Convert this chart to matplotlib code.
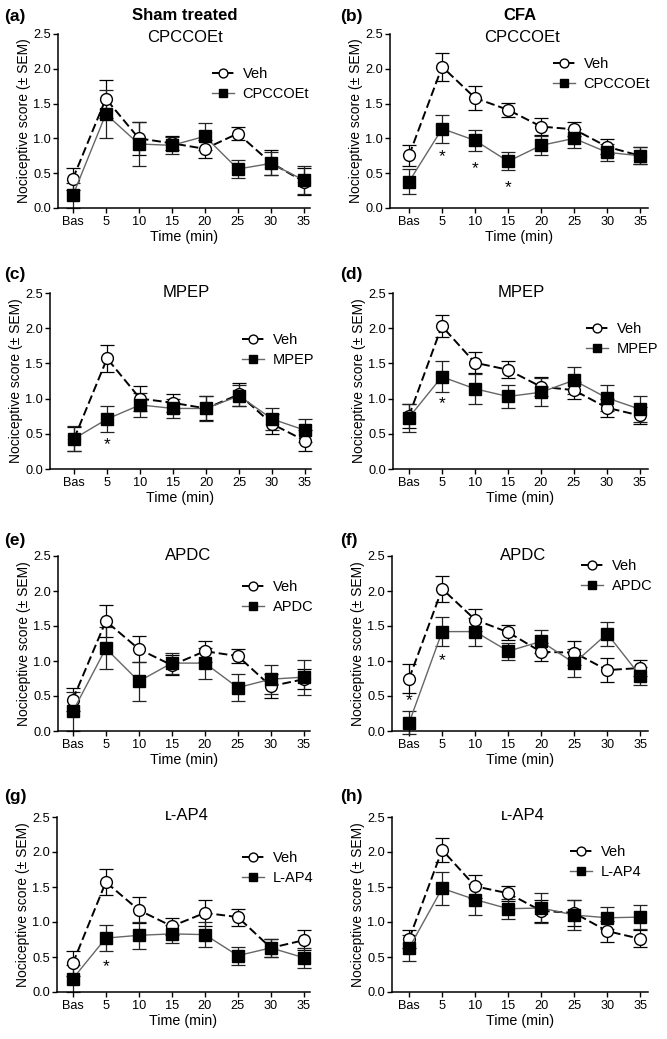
import matplotlib.pyplot as plt
import numpy as np

plt.rcParams['font.family'] = ['Liberation Sans', 'DejaVu Sans']

time_labels = ['Bas', '5', '10', '15', '20', '25', '30', '35']

# (a) sham, CPCCOEt
veh_a = [0.42, 1.57, 1.00, 0.93, 0.85, 1.07, 0.65, 0.38]
veh_a_sem = [0.16, 0.27, 0.24, 0.10, 0.13, 0.10, 0.18, 0.20]
drug_a = [0.18, 1.35, 0.92, 0.90, 1.03, 0.56, 0.64, 0.40]
drug_a_sem = [0.18, 0.34, 0.31, 0.12, 0.19, 0.13, 0.17, 0.20]

# (b) CFA, CPCCOEt
veh_b = [0.76, 2.03, 1.58, 1.41, 1.17, 1.13, 0.88, 0.75]
veh_b_sem = [0.15, 0.20, 0.17, 0.10, 0.12, 0.10, 0.11, 0.12]
drug_b = [0.38, 1.14, 0.97, 0.67, 0.90, 1.00, 0.80, 0.75]
drug_b_sem = [0.18, 0.20, 0.15, 0.13, 0.14, 0.14, 0.12, 0.12]

# (c) sham, MPEP
veh_c = [0.43, 1.57, 1.00, 0.94, 0.86, 1.06, 0.64, 0.40]
veh_c_sem = [0.17, 0.19, 0.18, 0.13, 0.17, 0.16, 0.14, 0.15]
drug_c = [0.43, 0.71, 0.91, 0.86, 0.86, 1.04, 0.71, 0.55]
drug_c_sem = [0.18, 0.19, 0.17, 0.14, 0.18, 0.15, 0.15, 0.16]

# (d) CFA, MPEP
veh_d = [0.75, 2.03, 1.51, 1.41, 1.17, 1.12, 0.87, 0.76]
veh_d_sem = [0.17, 0.16, 0.15, 0.12, 0.14, 0.12, 0.13, 0.12]
drug_d = [0.73, 1.31, 1.14, 1.03, 1.09, 1.26, 1.01, 0.85]
drug_d_sem = [0.20, 0.22, 0.21, 0.16, 0.20, 0.19, 0.19, 0.18]

# (e) sham, APDC
veh_e = [0.45, 1.57, 1.17, 0.94, 1.14, 1.07, 0.64, 0.74]
veh_e_sem = [0.17, 0.23, 0.19, 0.14, 0.15, 0.10, 0.17, 0.14]
drug_e = [0.28, 1.18, 0.71, 0.97, 0.97, 0.62, 0.74, 0.77]
drug_e_sem = [0.28, 0.30, 0.28, 0.15, 0.22, 0.19, 0.21, 0.25]

# (f) CFA, APDC
veh_f = [0.75, 2.03, 1.59, 1.41, 1.13, 1.12, 0.87, 0.90]
veh_f_sem = [0.21, 0.18, 0.16, 0.11, 0.13, 0.17, 0.17, 0.12]
drug_f = [0.12, 1.42, 1.42, 1.14, 1.28, 0.97, 1.39, 0.79]
drug_f_sem = [0.16, 0.21, 0.20, 0.12, 0.16, 0.20, 0.17, 0.13]

# (g) sham, L-AP4
veh_g = [0.41, 1.57, 1.17, 0.94, 1.13, 1.07, 0.63, 0.74]
veh_g_sem = [0.18, 0.19, 0.19, 0.12, 0.18, 0.12, 0.13, 0.14]
drug_g = [0.19, 0.77, 0.81, 0.83, 0.82, 0.52, 0.63, 0.49]
drug_g_sem = [0.19, 0.19, 0.19, 0.13, 0.18, 0.13, 0.13, 0.14]

# (h) CFA, L-AP4
veh_h = [0.76, 2.03, 1.51, 1.41, 1.16, 1.13, 0.87, 0.76]
veh_h_sem = [0.13, 0.17, 0.16, 0.11, 0.16, 0.18, 0.15, 0.12]
drug_h = [0.63, 1.48, 1.32, 1.19, 1.20, 1.10, 1.06, 1.07]
drug_h_sem = [0.19, 0.23, 0.22, 0.14, 0.21, 0.22, 0.16, 0.17]

# significance stars: (time index, y)
stars_b = [(1, 0.74), (2, 0.56), (3, 0.29)]
stars_c = [(1, 0.35)]
stars_d = [(1, 0.93)]
stars_f = [(0, 0.43), (1, 1.00)]
stars_g = [(1, 0.36)]

W, H = 667, 1039
UNIT = 33.0  # px per time step


def fx(px):
    return px / W


def fy(py):
    return 1 - py / H


# label, data, title, legend name, stars, axes px (left, right, top, bottom, xlim-left), legend px
panels = [
    ('(a)', veh_a, veh_a_sem, drug_a, drug_a_sem, 'CPCCOEt', 'CPCCOEt', [],
     (58, 310, 34, 208, -0.45), (212, 84)),
    ('(b)', veh_b, veh_b_sem, drug_b, drug_b_sem, 'CPCCOEt', 'CPCCOEt', stars_b,
     (390, 648, 34, 208, -0.58), (553, 74)),
    ('(c)', veh_c, veh_c_sem, drug_c, drug_c_sem, 'MPEP', 'MPEP', stars_c,
     (50, 311, 293, 469, -0.73), (242, 350)),
    ('(d)', veh_d, veh_d_sem, drug_d, drug_d_sem, 'MPEP', 'MPEP', stars_d,
     (393, 648, 293, 469, -0.48), (586, 339)),
    ('(e)', veh_e, veh_e_sem, drug_e, drug_e_sem, 'APDC', 'APDC', [],
     (58, 310, 556, 731, -0.45), (242, 597)),
    ('(f)', veh_f, veh_f_sem, drug_f, drug_f_sem, 'APDC', 'APDC', stars_f,
     (392, 648, 556, 731, -0.52), (581, 576)),
    ('(g)', veh_g, veh_g_sem, drug_g, drug_g_sem, 'ʟ-AP4', 'L-AP4', stars_g,
     (57, 310, 817, 992, -0.48), (242, 868)),
    ('(h)', veh_h, veh_h_sem, drug_h, drug_h_sem, 'ʟ-AP4', 'L-AP4', [],
     (392, 648, 817, 992, -0.52), (570, 862)),
]

title_pos = {'(a)': (185, 37), '(b)': (522, 37), '(c)': (186, 292), '(d)': (521, 292),
             '(e)': (188, 555), '(f)': (523, 555), '(g)': (187, 816), '(h)': (523, 816)}
label_pos = {'(a)': (4, 17), '(b)': (340, 17), '(c)': (4, 275), '(d)': (340, 275),
             '(e)': (4, 540), '(f)': (340, 540), '(g)': (4, 797), '(h)': (340, 797)}

fig = plt.figure(figsize=(W / 100, H / 100), dpi=100)
x = np.arange(len(time_labels))

for (lab, veh, veh_sem, drug, drug_sem, title, dname, stars, geo, leg) in panels:
    left, right, top, bottom, xl = geo
    ax = fig.add_axes([fx(left), fy(bottom), (right - left) / W, (bottom - top) / H])

    ax.errorbar(x, veh, yerr=veh_sem, fmt='none', ecolor='black', elinewidth=0.9,
                capsize=4.7, capthick=0.9, zorder=2, clip_on=False)
    ax.errorbar(x, drug, yerr=drug_sem, fmt='none', ecolor='#222222', elinewidth=0.9,
                capsize=4.7, capthick=0.9, zorder=2, clip_on=False)
    ax.plot(x, veh, color='black', lw=1.4, ls=(0, (4.5, 2)), marker='o', ms=8.5,
            mfc='white', mec='black', mew=1.0, zorder=3, clip_on=False, label='Veh')
    ax.plot(x, drug, color='#666666', lw=1.0, marker='s', ms=8.5, mfc='black',
            mec='black', zorder=4, clip_on=False, label=dname)

    for (i, sy) in stars:
        ax.text(i, sy, '*', ha='center', va='center', fontsize=12.5)

    ax.set_xlim(xl, xl + (right - left) / UNIT)
    ax.set_ylim(0, 2.5)
    ax.set_xticks(x)
    ax.set_xticklabels(time_labels)
    ax.set_yticks([0, 0.5, 1.0, 1.5, 2.0, 2.5])
    ax.set_yticklabels(['0.0', '0.5', '1.0', '1.5', '2.0', '2.5'])
    ax.tick_params(labelsize=9.2, width=1.0, length=3.5, pad=1.5, direction='out')
    ax.tick_params(axis='x', pad=2.5)
    for s in ['top', 'right']:
        ax.spines[s].set_visible(False)
    for s in ['left', 'bottom']:
        ax.spines[s].set_linewidth(1.1)
    ax.set_xlabel('Time (min)', fontsize=10.3, labelpad=1)
    ax.set_ylabel('Nociceptive score (± SEM)', fontsize=10, labelpad=2)

    ax.legend(loc='center left', bbox_to_anchor=(fx(leg[0]), fy(leg[1])),
              bbox_transform=fig.transFigure, frameon=False, borderpad=0,
              borderaxespad=0, handlelength=1.5, handletextpad=0.6,
              labelspacing=0.45, fontsize=10.5, markerscale=0.75)

    tx, ty = title_pos[lab]
    fig.text(fx(tx), fy(ty), title, ha='center', va='center', fontsize=12)
    lx, ly = label_pos[lab]
    fig.text(fx(lx), fy(ly), lab, ha='left', va='center', fontsize=12.5, fontweight='bold')

fig.text(fx(185), fy(16), 'Sham treated', ha='center', va='center', fontsize=12, fontweight='bold')
fig.text(fx(520), fy(16), 'CFA', ha='center', va='center', fontsize=12, fontweight='bold')

fig.savefig('out.png', dpi=100)
